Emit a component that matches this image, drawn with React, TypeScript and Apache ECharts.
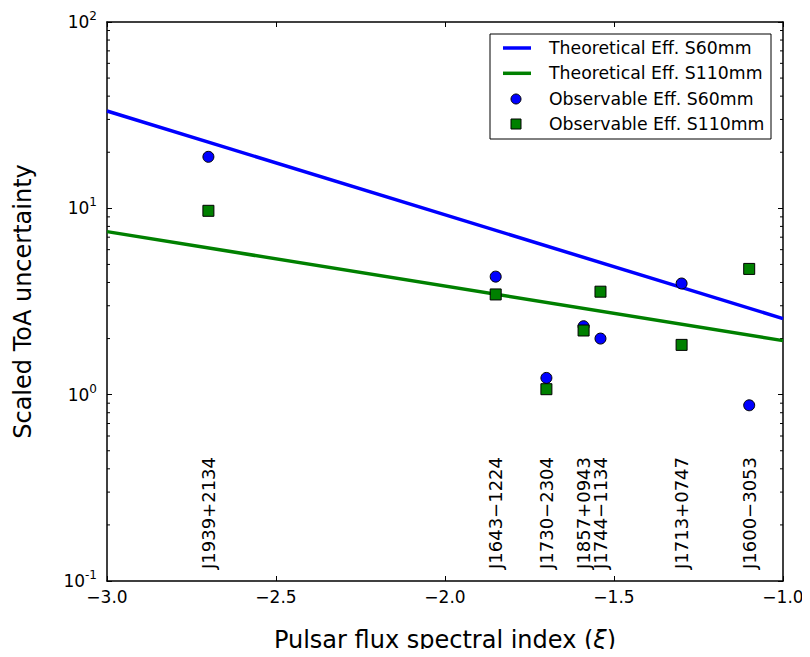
import React, { useEffect, useRef } from "react";
import * as echarts from "echarts";

const PULSAR_NAMES = [
  "J1939+2134",
  "J1643\u22121224",
  "J1730\u22122304",
  "J1857+0943",
  "J1744\u22121134",
  "J1713+0747",
  "J1600\u22123053",
];
const PULSAR_X = [-2.7, -1.85, -1.7, -1.59, -1.54, -1.3, -1.1];
const OBS_S60 = [18.9, 4.3, 1.23, 2.33, 2.0, 3.95, 0.877];
const OBS_S110 = [9.7, 3.45, 1.07, 2.21, 3.57, 1.85, 4.73];

const THEORY_X = [-3.0, -1.0];
const THEORY_S60 = [33.3, 2.56];
const THEORY_S110 = [7.5, 1.95];

const SERIES_NAMES = [
  "Theoretical Eff. S60mm",
  "Theoretical Eff. S110mm",
  "Observable Eff. S60mm",
  "Observable Eff. S110mm",
];

const X_TICKS_MIN = -3.0;
const X_TICKS_MAX = -1.0;
const X_TICK_STEP = 0.5;
const Y_MIN = 0.1;
const Y_MAX = 100;
const Y_MINOR_TICKS = [
  0.2, 0.3, 0.4, 0.5, 0.6, 0.7, 0.8, 0.9,
  2, 3, 4, 5, 6, 7, 8, 9,
  20, 30, 40, 50, 60, 70, 80, 90,
];

const FONT = "DejaVu Sans";
const BLUE = "#0000ff";
const GREEN = "#008000";

export default function App() {
  const ref = useRef<HTMLDivElement>(null);
  useEffect(() => {
    if (!ref.current) return;
    const chart = echarts.init(ref.current, undefined, { renderer: "svg" });
    const axisLine = { show: true, lineStyle: { color: "#000", width: 1.5 } };
    const tickInside = { show: true, inside: true, length: 5, lineStyle: { color: "#000", width: 1 } };
    const fmtX = (v: number) => v.toFixed(1).replace("-", "\u2212");
    const fmtY = (v: number) => {
      const e = Math.round(Math.log10(v));
      return `{b|10}{s|${e}}`;
    };

    // legend drawn as graphic
    const LX = 490, LY = 34, LW = 281, LH = 105;
    const rowY = [48, 73.3, 99, 124];
    const iconCx = 516;
    const textX = 549;
    const legendChildren: any[] = [
      { type: "rect", shape: { x: LX, y: LY, width: LW, height: LH }, style: { fill: "#fff", stroke: "#000", lineWidth: 1 } },
      { type: "line", shape: { x1: 503, y1: rowY[0], x2: 531, y2: rowY[0] }, style: { stroke: BLUE, lineWidth: 3.5 } },
      { type: "line", shape: { x1: 503, y1: rowY[1], x2: 531, y2: rowY[1] }, style: { stroke: GREEN, lineWidth: 3.5 } },
      { type: "circle", shape: { cx: iconCx, cy: rowY[2], r: 5 }, style: { fill: BLUE, stroke: "#000", lineWidth: 1 } },
      { type: "rect", shape: { x: iconCx - 5, y: rowY[3] - 5, width: 10, height: 10 }, style: { fill: GREEN, stroke: "#000", lineWidth: 1 } },
    ];
    SERIES_NAMES.forEach((n, i) => {
      legendChildren.push({
        type: "text",
        x: textX,
        y: rowY[i],
        style: { text: n, fontFamily: FONT, fontSize: 17.3, fill: "#000", align: "left", verticalAlign: "middle" },
      });
    });

    const option: any = {
      animation: false,
      backgroundColor: "#fff",
      textStyle: { fontFamily: FONT },
      grid: { left: 107, top: 22, right: 27, bottom: 75, containLabel: false },
      graphic: [{ type: "group", z: 100, children: legendChildren }],
      xAxis: [
        {
          type: "value",
          min: X_TICKS_MIN,
          max: X_TICKS_MAX,
          interval: X_TICK_STEP,
          position: "bottom",
          axisLine,
          axisTick: tickInside,
          splitLine: { show: false },
          axisLabel: { formatter: fmtX, color: "#000", fontSize: 17, fontFamily: FONT, margin: 7 },
          name: "Pulsar flux spectral index ({i|\u03be})",
          nameLocation: "middle",
          nameGap: 47,
          nameTextStyle: {
            fontSize: 24,
            color: "#000",
            fontFamily: FONT,
            rich: { i: { fontSize: 24, fontStyle: "italic", fontFamily: FONT, color: "#000" } },
          },
        },
        {
          type: "value",
          min: X_TICKS_MIN,
          max: X_TICKS_MAX,
          interval: X_TICK_STEP,
          position: "top",
          axisLine,
          axisTick: tickInside,
          splitLine: { show: false },
          axisLabel: { show: false },
        },
      ],
      yAxis: [
        {
          type: "log",
          logBase: 10,
          min: Y_MIN,
          max: Y_MAX,
          splitNumber: 3,
          position: "left",
          axisLine,
          axisTick: tickInside,
          splitLine: { show: false },
          axisLabel: {
            formatter: fmtY,
            color: "#000",
            margin: 10,
            rich: {
              b: { fontSize: 17, fontFamily: FONT, color: "#000" },
              s: { fontSize: 12, fontFamily: FONT, color: "#000", padding: [0, 0, 12, 0] },
            },
          },
          name: "Scaled ToA uncertainty",
          nameLocation: "middle",
          nameGap: 72,
          nameTextStyle: { fontSize: 24, color: "#000", fontFamily: FONT },
        },
        {
          type: "log",
          logBase: 10,
          min: Y_MIN,
          max: Y_MAX,
          splitNumber: 3,
          position: "right",
          axisLine,
          axisTick: tickInside,
          splitLine: { show: false },
          axisLabel: { show: false },
        },
      ],
      series: [
        {
          name: SERIES_NAMES[0],
          type: "line",
          data: THEORY_X.map((x, i) => [x, THEORY_S60[i]]),
          symbol: "none",
          lineStyle: { color: BLUE, width: 3.5 },
          itemStyle: { color: BLUE },
          z: 2,
        },
        {
          name: SERIES_NAMES[1],
          type: "line",
          data: THEORY_X.map((x, i) => [x, THEORY_S110[i]]),
          symbol: "none",
          lineStyle: { color: GREEN, width: 3.5 },
          itemStyle: { color: GREEN },
          z: 2,
        },
        {
          name: SERIES_NAMES[2],
          type: "scatter",
          data: PULSAR_X.map((x, i) => [x, OBS_S60[i]]),
          symbol: "circle",
          symbolSize: 11,
          itemStyle: { color: BLUE, borderColor: "#000", borderWidth: 1, opacity: 1 },
          z: 3,
        },
        {
          name: SERIES_NAMES[3],
          type: "scatter",
          data: PULSAR_X.map((x, i) => [x, OBS_S110[i]]),
          symbol: "rect",
          symbolSize: 11,
          itemStyle: { color: GREEN, borderColor: "#000", borderWidth: 1, opacity: 1 },
          z: 4,
        },
        {
          name: "minorTicks",
          type: "custom",
          silent: true,
          data: Y_MINOR_TICKS.map((v) => [X_TICKS_MIN, v]),
          renderItem: (params: any, api: any) => {
            const v = api.value(1);
            const p = api.coord([X_TICKS_MIN, v]);
            const q = api.coord([X_TICKS_MAX, v]);
            const st = { stroke: "#000", lineWidth: 1 };
            return {
              type: "group",
              children: [
                { type: "line", shape: { x1: p[0], y1: p[1], x2: p[0] + 3, y2: p[1] }, style: st },
                { type: "line", shape: { x1: q[0] - 3, y1: q[1], x2: q[0], y2: q[1] }, style: st },
              ],
            };
          },
          z: 1,
        },
        {
          name: "pulsarLabels",
          type: "custom",
          silent: true,
          data: PULSAR_X.map((x) => [x, Y_MIN]),
          renderItem: (params: any, api: any) => {
            const p = api.coord([api.value(0), api.value(1)]);
            return {
              type: "text",
              x: p[0],
              y: p[1] - 12,
              rotation: Math.PI / 2,
              style: {
                text: PULSAR_NAMES[params.dataIndex],
                fontFamily: FONT,
                fontSize: 18,
                fill: "#000",
                align: "left",
                verticalAlign: "middle",
              },
            };
          },
          z: 1,
        },
      ],
    };
    chart.setOption(option);
    return () => chart.dispose();
  }, []);
  return <div ref={ref} style={{ width: 810, height: 657, margin: -8 }} />;
}
